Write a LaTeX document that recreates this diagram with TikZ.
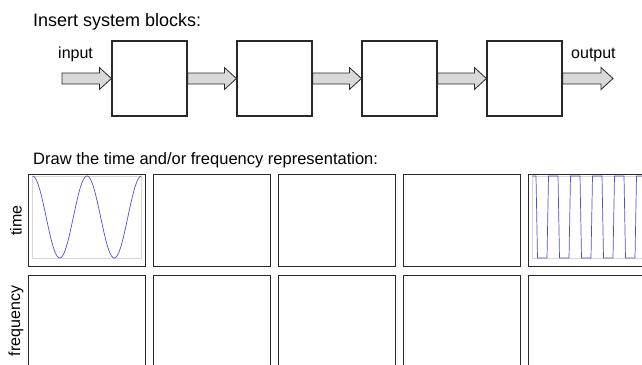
\documentclass[tikz,border=0pt]{standalone}
\usepackage{fontspec}
\setmainfont{Liberation Sans}
\usetikzlibrary{calc}
\definecolor{arrfill}{RGB}{217,217,217}
\definecolor{edge}{RGB}{40,40,40}
\definecolor{wave}{RGB}{80,80,215}
\definecolor{axisgray}{RGB}{215,215,215}
\tikzset{
  sysblock/.style={draw=edge, line width=1.2pt, fill=white, minimum width=75pt, minimum height=75pt, inner sep=0pt},
  cell/.style={draw=edge, line width=1.5pt, minimum width=117pt, minimum height=92pt, inner sep=0pt},
  fatarr/.style={draw=edge, line width=0.8pt, fill=arrfill, line join=miter},
  heading/.style={font=\fontsize{18}{20}\selectfont, anchor=base west, inner sep=0pt},
  headingb/.style={font=\fontsize{16.5}{19}\selectfont, anchor=base west, inner sep=0pt},
  lbl/.style={font=\fontsize{16}{18}\selectfont, inner sep=0pt},
  plotframe/.style={draw=axisgray, line width=0.6pt},
  wavestyle/.style={draw=wave, line width=0.7pt}
}
\newcommand\fatarrow[2]{%
  \path[fatarr] let \p1=(#1), \p2=(#2) in
    (\x1,\y1+5.5pt) -- (\x2-12pt,\y1+5.5pt) -- (\x2-12pt,\y1+11pt) -- (\x2,\y1)
    -- (\x2-12pt,\y1-11pt) -- (\x2-12pt,\y1-5.5pt) -- (\x1,\y1-5.5pt) -- cycle;}
\begin{document}
\begin{tikzpicture}[x=1pt,y=-1pt]
\useasboundingbox (0,0) rectangle (642,364);
\clip (0,0) rectangle (642,364);
\fill[white] (0,0) rectangle (642,364);
% top part
\node[heading] (h1) at (33,26) {Insert system blocks:};
\foreach \i in {1,...,4}{
  \node[sysblock] (b\i) at ({149.5+125*(\i-1)},78.5) {};
}
\coordinate (in) at (62,78.5);
\coordinate (out) at (613,78.5);
\node[lbl, anchor=base west] (inlbl) at (58,58) {input};
\node[lbl, anchor=base west] (outlbl) at (571,58) {output};
\fatarrow{in}{b1.west}
\fatarrow{b1.east}{b2.west}
\fatarrow{b2.east}{b3.west}
\fatarrow{b3.east}{b4.west}
\fatarrow{b4.east}{out}
% bottom part
\node[headingb] (h2) at (33,164) {Draw the time and/or frequency representation:};
\foreach \i in {1,...,5}{
  \node[cell] (t\i) at ({87+125*(\i-1)},220.5) {};
  \node[cell] (f\i) at ({87+125*(\i-1)},321.5) {};
}
\node[lbl, rotate=90] (timelbl) at (16,220.5) {time};
\node[lbl, rotate=90] (freqlbl) at (16,321) {frequency};
% sine plot
\draw[plotframe] (32.5,176) rectangle (141.5,258);
\draw[wavestyle, domain=0:1, samples=120, smooth, variable=\t] plot ({32.5+109*\t},{217-41*cos(720*\t)});
% square plot
\draw[plotframe] (532,176) rectangle (650,258);
\draw[wavestyle, line join=miter]
  (532,176) -- (536,176) -- (537.5,258) -- (547,258) -- (548.5,176)
  -- (558,176) -- (559.5,258) -- (569,258) -- (570.5,176)
  -- (580,176) -- (581.5,258) -- (591,258) -- (592.5,176)
  -- (602,176) -- (603.5,258) -- (613,258) -- (614.5,176)
  -- (624,176) -- (625.5,258) -- (635,258) -- (636.5,176) -- (645,176);
\end{tikzpicture}
\end{document}
